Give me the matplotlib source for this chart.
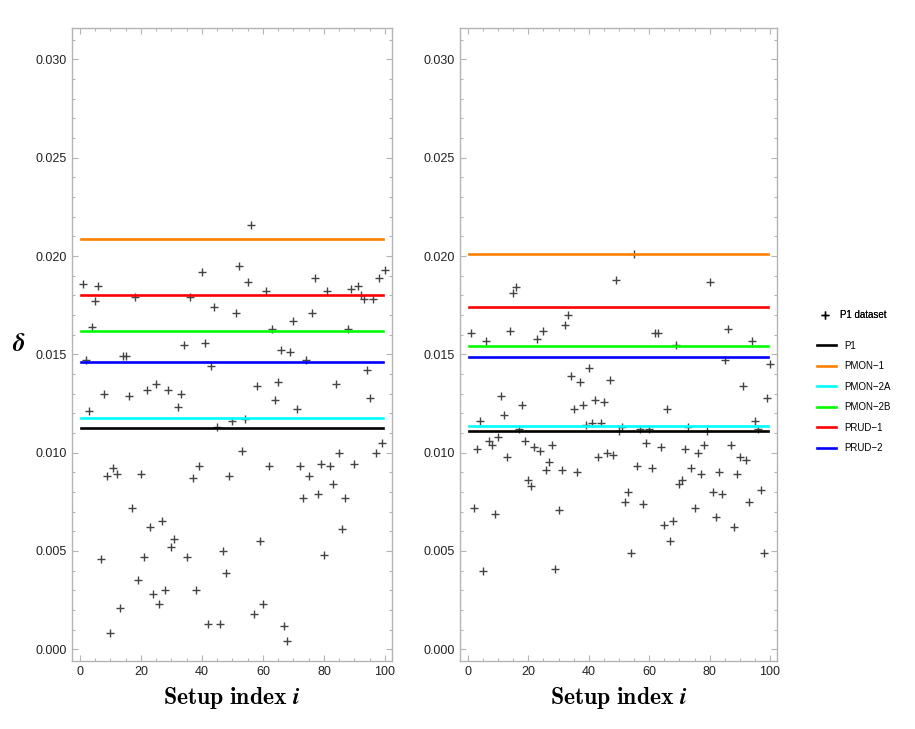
import matplotlib
matplotlib.use("Agg")
import matplotlib.pyplot as plt
from matplotlib.lines import Line2D
from matplotlib.ticker import MultipleLocator, FormatStrFormatter

plt.rcParams['mathtext.fontset'] = 'cm'

# setup index 1..100
setup_index = list(range(1, 101))

# P1 dataset, left panel
delta_left = [
    0.0186, 0.0147, 0.0121, 0.0164, 0.0177, 0.0185, 0.0046, 0.0130, 0.0088, 0.0008,
    0.0092, 0.0089, 0.0021, 0.0149, 0.0149, 0.0129, 0.0072, 0.0179, 0.0035, 0.0089,
    0.0047, 0.0132, 0.0062, 0.0028, 0.0135, 0.0023, 0.0065, 0.0030, 0.0132, 0.0052,
    0.0056, 0.0123, 0.0130, 0.0155, 0.0047, 0.0179, 0.0087, 0.0030, 0.0093, 0.0192,
    0.0156, 0.0013, 0.0144, 0.0174, 0.0113, 0.0013, 0.0050, 0.0039, 0.0088, 0.0116,
    0.0171, 0.0195, 0.0101, 0.0117, 0.0187, 0.0216, 0.0018, 0.0134, 0.0055, 0.0023,
    0.0182, 0.0093, 0.0163, 0.0127, 0.0136, 0.0152, 0.0012, 0.0004, 0.0151, 0.0167,
    0.0122, 0.0093, 0.0077, 0.0147, 0.0088, 0.0171, 0.0189, 0.0079, 0.0094, 0.0048,
    0.0182, 0.0093, 0.0084, 0.0135, 0.0100, 0.0061, 0.0077, 0.0163, 0.0183, 0.0094,
    0.0185, 0.0180, 0.0178, 0.0142, 0.0128, 0.0178, 0.0100, 0.0189, 0.0105, 0.0193,
]

# P1 dataset, right panel
delta_right = [
    0.0161, 0.0072, 0.0102, 0.0116, 0.0040, 0.0157, 0.0106, 0.0104, 0.0069, 0.0108,
    0.0129, 0.0119, 0.0098, 0.0162, 0.0181, 0.0184, 0.0112, 0.0124, 0.0106, 0.0086,
    0.0083, 0.0103, 0.0158, 0.0101, 0.0162, 0.0091, 0.0095, 0.0104, 0.0041, 0.0071,
    0.0091, 0.0165, 0.0170, 0.0139, 0.0122, 0.0090, 0.0136, 0.0124, 0.0114, 0.0143,
    0.0115, 0.0127, 0.0098, 0.0115, 0.0126, 0.0100, 0.0137, 0.0099, 0.0188, 0.0111,
    0.0113, 0.0075, 0.0080, 0.0049, 0.0201, 0.0093, 0.0112, 0.0074, 0.0105, 0.0112,
    0.0092, 0.0161, 0.0161, 0.0103, 0.0063, 0.0122, 0.0055, 0.0065, 0.0155, 0.0084,
    0.0086, 0.0102, 0.0113, 0.0092, 0.0072, 0.0100, 0.0089, 0.0104, 0.0111, 0.0187,
    0.0080, 0.0067, 0.0090, 0.0079, 0.0147, 0.0163, 0.0104, 0.0062, 0.0089, 0.0098,
    0.0134, 0.0096, 0.0075, 0.0157, 0.0116, 0.0112, 0.0081, 0.0049, 0.0128, 0.0145,
]

# reference levels
method_names = ['P1', 'PMON\u22121', 'PMON\u22122A', 'PMON\u22122B', 'PRUD\u22121', 'PRUD\u22122']
method_colors = ['#000000', '#FF8000', '#00FFFF', '#00FF00', '#FF0000', '#0000FF']
levels_left = [0.01125, 0.02085, 0.01175, 0.0162, 0.0180, 0.01459]
levels_right = [0.01108, 0.02008, 0.01137, 0.01541, 0.01739, 0.01486]

W, H = 915, 729
fig = plt.figure(figsize=(W / 100, H / 100), dpi=100)

frame_col = '#b4b4b4'
ax_left = fig.add_axes([72 / W, (H - 661) / H, 320 / W, 633 / H])
ax_right = fig.add_axes([460 / W, (H - 661) / H, 317 / W, 633 / H])

for ax, vals, levels in [(ax_left, delta_left, levels_left), (ax_right, delta_right, levels_right)]:
    ax.plot(setup_index, vals, linestyle='none', marker='+', markersize=5.5,
            markeredgewidth=1.0, color='#444444', zorder=2)
    for lvl, col in zip(levels, method_colors):
        ax.axhline(lvl, xmin=0.027, xmax=0.973, color=col, linewidth=1.9, zorder=3)

    ax.set_xlim(-2.6, 102.3)
    ax.set_ylim(-0.0006, 0.0316)
    ax.xaxis.set_major_locator(MultipleLocator(20))
    ax.xaxis.set_minor_locator(MultipleLocator(5))
    ax.yaxis.set_major_locator(MultipleLocator(0.005))
    ax.yaxis.set_minor_locator(MultipleLocator(0.001))
    ax.yaxis.set_major_formatter(FormatStrFormatter('%.3f'))
    for s in ax.spines.values():
        s.set_color(frame_col)
        s.set_linewidth(1.0)
    ax.tick_params(which='both', direction='in', top=True, right=True,
                   color=frame_col, width=0.8, labelcolor='#222222')
    ax.tick_params(which='major', length=4.5)
    ax.tick_params(which='minor', length=2.2)
    for lab in ax.get_xticklabels() + ax.get_yticklabels():
        lab.set_family('Liberation Sans')
        lab.set_fontsize(9)
    ax.set_xlabel(r'$\mathbf{Setup\ index}\ \boldsymbol{i}$', fontsize=17, labelpad=5)

ax_left.set_ylabel(r'$\boldsymbol{\delta}$', fontsize=18, rotation=0, labelpad=12, va='center')

# legend: dataset marker, then the reference lines
pt_handle = Line2D([], [], linestyle='none', marker='+', markersize=6,
                   markeredgewidth=1.0, color='#000000')
leg1 = fig.legend([pt_handle], ['P1 dataset'], loc='center left',
                  bbox_to_anchor=(808 / W, 1 - 315 / H), frameon=False,
                  prop={'family': 'Liberation Sans', 'size': 7}, handlelength=1.6)
line_handles = [Line2D([], [], color=c, linewidth=1.9) for c in method_colors]
fig.legend(line_handles, method_names, loc='upper left',
           bbox_to_anchor=(808 / W, 1 - 332 / H), frameon=False,
           prop={'family': 'Liberation Sans', 'size': 7}, handlelength=2.0,
           labelspacing=1.08)
fig.add_artist(leg1)

fig.savefig('out.png', dpi=100)
